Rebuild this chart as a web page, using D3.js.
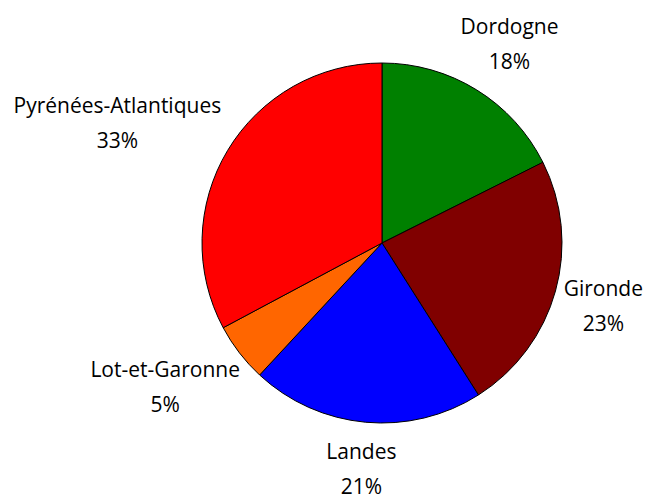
<!DOCTYPE html>
<html>
<head>
<meta charset="utf-8">
<script src="https://cdn.jsdelivr.net/npm/d3@7"></script>
<style>
  body { margin: 0; background: #fff; }
  svg text { font-family: "Open Sans", Lato, sans-serif; font-size: 21px; fill: #000; }
</style>
</head>
<body>
<svg id="chart" width="647" height="502"></svg>
<script>
const categories = ['Dordogne', 'Gironde', 'Landes', 'Lot-et-Garonne', 'Pyrénées-Atlantiques']
const values     = [17.6, 23.4, 20.9, 5.3, 32.8]
const colors     = ['#008000', '#800000', '#0000ff', '#ff6600', '#ff0000']

const
  width   = 647,
  height  = 502,
  svg     = d3.select('#chart'),
  cx      = 382,
  cy      = 243,
  radius  = 180,
  labelR  = 184,
  lineGap = 35,
  total   = d3.sum(values)

const pie = d3.pie().sort(null)(values)
const arc = d3.arc().innerRadius(0).outerRadius(radius)
const color = d3.scaleOrdinal(categories, colors)

const g = svg.append('g').attr('transform', `translate(${cx},${cy})`)

g.selectAll('path')
  .data(pie)
  .join('path')
  .attr('d', arc)
  .attr('fill', (d, i) => color(categories[i]))
  .attr('stroke', '#000')
  .attr('stroke-width', 1)

// labels sit outside the pie, pushed away from it by their own box
pie.forEach((d, i) =>
{
  const
    a     = (d.startAngle + d.endAngle) / 2,
    label = g.append('g')

  label.append('text')
    .attr('text-anchor', 'middle')
    .attr('y', 0)
    .text(categories[i])
  label.append('text')
    .attr('text-anchor', 'middle')
    .attr('y', lineGap)
    .text(Math.round(values[i] / total * 100) + '%')

  const box = label.node().getBBox()
  let
    ox = Math.sin(a) * (labelR + box.width / 2 * 1.2),
    oy = -Math.cos(a) * (labelR + box.height / 2 * 1.6) - (box.y + box.height / 2)

  // keep the text inside the picture
  ox = Math.min(ox, width - cx - 4 - box.width / 2)
  ox = Math.max(ox, 4 - cx + box.width / 2)
  oy = Math.min(oy, height - cy - 2 - (box.y + box.height))
  oy = Math.max(oy, 2 - cy - box.y)

  label.attr('transform', `translate(${ox},${oy})`)
})
</script>
</body>
</html>
